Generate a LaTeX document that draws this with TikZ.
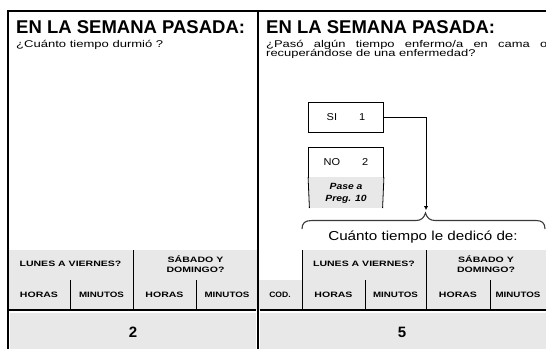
\documentclass[tikz,border=0pt]{standalone}
\usepackage{graphicx}
\usepackage{fontspec}
\setmainfont{Liberation Sans}
\usetikzlibrary{arrows.meta}
\definecolor{cellgray}{HTML}{E8E8E8}
\definecolor{bracegray}{HTML}{3A3A3A}
\newcommand{\hs}[2]{\scalebox{#1}[1]{#2}}
\tikzset{
  ttl/.style={font=\fontsize{18.5}{20}\selectfont\bfseries, anchor=base west, inner sep=0pt},
  subq/.style={font=\fontsize{9.8}{10}\selectfont, anchor=base west, inner sep=0pt},
  hdr/.style={font=\fontsize{7.8}{10}\selectfont\bfseries, inner sep=0pt, align=center},
  optbox/.style={draw, line width=0.8pt, minimum width=75pt, minimum height=30pt, inner sep=0pt, font=\fontsize{10}{12}\selectfont},
  num/.style={font=\fontsize{15}{16}\selectfont\bfseries, inner sep=0pt},
  rule/.style={line width=0.8pt},
}
\begin{document}
\begin{tikzpicture}[x=1pt,y=-1pt]
\useasboundingbox (0,0) rectangle (546,349);
% gray fills
\fill[cellgray] (9,250) rectangle (257,310);
\fill[cellgray] (302,250) rectangle (546,310);
\fill[cellgray] (259,280) rectangle (302,310);
\fill[cellgray] (10,313) rectangle (256,349);
\fill[cellgray] (260,313) rectangle (546,349);
% frame
\draw[line width=2pt] (7,11) -- (546,11);
\draw[line width=2.5pt] (8,10) -- (8,349);
\draw[line width=1.6pt] (258,11) -- (258,349);
\draw[line width=2.2pt] (8,310) -- (256,310);
\draw[line width=2.2pt] (260,310) -- (546,310);
% left table lines
\draw[rule] (133,250) -- (133,310);
\draw[rule] (70,280) -- (70,310);
\draw[rule] (196,280) -- (196,310);
% right table lines
\draw[rule] (302,250) -- (302,310);
\draw[rule] (426,250) -- (426,310);
\draw[rule] (365,280) -- (365,310);
\draw[rule] (490,280) -- (490,310);
% titles
\node[ttl] (t1) at (16,33) {EN LA SEMANA PASADA:};
\node[ttl] (t2) at (266,33) {EN LA SEMANA PASADA:};
\node[subq] (q1) at (16,47.5) {\hs{1.33}{¿Cuánto tiempo durmió ?}};
\node[subq] (q2a) at (266,47) {\hs{1.32}{\makebox[213pt][s]{¿Pasó algún tiempo enfermo/a en cama o}}};
\node[subq] (q2b) at (266,56.5) {\hs{1.32}{recuperándose de una enfermedad?}};
% option boxes
\node[optbox] (si) at (346,117) {\hs{1.1}{SI\hspace{20pt}1}};
\node[optbox] (no) at (346,162) {\hs{1.1}{NO\hspace{20pt}2}};
\fill[cellgray] (309.4,177) rectangle (382.6,208);
\draw[rule] (no.south west) -- (309.4,208);
\draw[rule] (no.south east) -- (382.6,208);
\node[font=\fontsize{9}{12}\selectfont\bfseries\itshape, align=center, inner sep=0pt] (pase) at (346,193.5) {\hs{1.15}{Pase a}\\\hs{1.15}{Preg. 10}};
% connector
\coordinate (tip) at (426,210);
\draw[rule, -{Latex[length=4pt,width=4.5pt]}] (si.east) -| (tip);
% brace
\draw[bracegray, line width=1.1pt] (302,229) .. controls (302,223) and (305,220.5) .. (312,220.5) -- (416,220.5) .. controls (421,220.5) and (424,218) .. (425.5,213) .. controls (427,218) and (430,220.5) .. (435,220.5) -- (536,220.5) .. controls (542,220.5) and (545,223) .. (545,229);
\node[font=\fontsize{13}{14}\selectfont, inner sep=0pt] (cuanto) at (423,237) {\hs{1.17}{Cuánto tiempo le dedicó de:}};
% left headers
\node[hdr] (l1) at (70.5,264) {\hs{1.35}{LUNES A VIERNES?}};
\node[hdr] (l2) at (195.5,264) {\hs{1.35}{SÁBADO Y}\\\hs{1.35}{DOMINGO?}};
\node[hdr] (l3) at (39,295) {\hs{1.35}{HORAS}};
\node[hdr] (l4) at (101.5,295) {\hs{1.25}{MINUTOS}};
\node[hdr] (l5) at (164.5,295) {\hs{1.35}{HORAS}};
\node[hdr] (l6) at (227,295) {\hs{1.25}{MINUTOS}};
% right headers
\node[hdr] (r0) at (280,295) {\hs{1.1}{COD.}};
\node[hdr] (r1) at (364,264) {\hs{1.35}{LUNES A VIERNES?}};
\node[hdr] (r2) at (486,264) {\hs{1.35}{SÁBADO Y}\\\hs{1.35}{DOMINGO?}};
\node[hdr] (r3) at (333.5,295) {\hs{1.35}{HORAS}};
\node[hdr] (r4) at (395.5,295) {\hs{1.25}{MINUTOS}};
\node[hdr] (r5) at (458,295) {\hs{1.35}{HORAS}};
\node[hdr] (r6) at (518,295) {\hs{1.25}{MINUTOS}};
% bottom numbers
\node[num] (n2) at (133,332) {2};
\node[num] (n5) at (402,332) {5};
\end{tikzpicture}
\end{document}
